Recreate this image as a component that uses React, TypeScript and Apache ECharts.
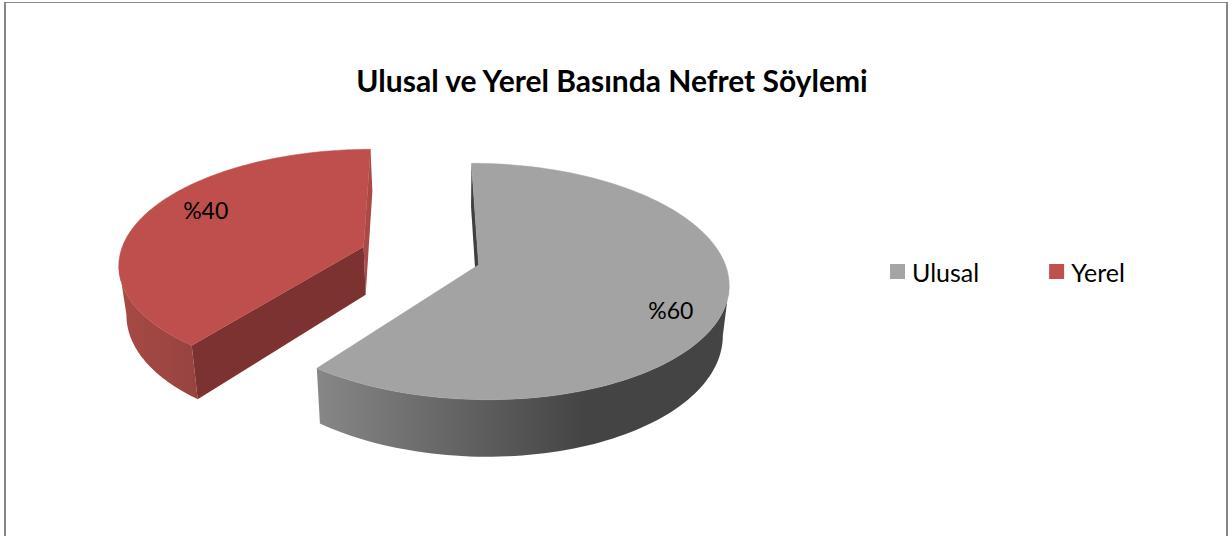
import React, { useEffect, useRef } from "react";
import * as echarts from "echarts";

const categories = ["Ulusal", "Yerel"];
const values = [60, 40];
const chartTitle = "Ulusal ve Yerel Basında Nefret Söylemi";

const FONT = "Lato, Carlito, Calibri, sans-serif";
const TOTAL = values.reduce((a, b) => a + b, 0);

// perspective model of the tilted pie
const X0 = 420.5, Y0 = 255.7, SX = 244, SY = 113.3, P = 0.139;
const EX = 0.2478, EY = 0.259;
const LABEL_SHIFT = 7.7;
const ANGLE_SKEW = 1.6;

const rad = (d: number) => (d * Math.PI) / 180;
const proj = (U: number, V: number): number[] => {
  const k = 1 - P * V;
  return [X0 + (SX * U) / k, Y0 + (SY * V) / k];
};
const lower = (pt: number[]): number[] => [
  452 + (pt[0] - 452) * 0.977,
  pt[1] + 48 + 0.059 * (pt[1] - 246),
];

const faces = [
  {
    top: "#A3A3A3",
    rim: [
      [0, "#878787"],
      [0.65, "#444444"],
      [1, "#444444"],
    ],
    cutFirst: "#3F3F3F",
    cutLast: null as string | null,
    labelR: 0.815,
  },
  {
    top: "#BE4F4C",
    rim: [
      [0, "#A84A45"],
      [1, "#964340"],
    ],
    cutFirst: "#7B3230",
    cutLast: "#A84A47",
    labelR: 0.779,
  },
];
const legendColors = ["#A5A5A5", "#C0504D"];

function sliceGroup(index: number) {
  const before = values.slice(0, index).reduce((a, b) => a + b, 0);
  const a0 = (before / TOTAL) * 360;
  const a1 = ((before + values[index]) / TOTAL) * 360;
  const mid = (a0 + a1) / 2;
  const ou = Math.sin(rad(mid)) * EX;
  const ov = -Math.cos(rad(mid)) * EY;
  const at = (deg: number, r = 1) => {
    const d = deg + ANGLE_SKEW * Math.sin(rad(deg / 2));
    return proj(ou + r * Math.sin(rad(d)), ov - r * Math.cos(rad(d)));
  };

  const arc: number[][] = [];
  const steps = 140;
  for (let i = 0; i <= steps; i++) arc.push(at(a0 + ((a1 - a0) * i) / steps));
  const apex = proj(ou, ov);
  const f = faces[index];
  const children: any[] = [];
  const poly = (points: number[][], fill: any, stroke: string = "none") => ({
    type: "polygon",
    shape: { points },
    style: { fill, stroke, lineWidth: 0.5 },
    silent: true,
  });

  const first = arc[0];
  const last = arc[arc.length - 1];
  if (f.cutLast) {
    children.push(poly([last, apex, lower(apex), lower(last)], f.cutLast));
  }

  // Only the front of the rim is drawn, closed by a straight silhouette edge.
  const xs = arc.map((p) => p[0]);
  const extreme = index === 0 ? Math.max(...xs) : Math.min(...xs);
  const extremeY = arc[xs.indexOf(extreme)][1];
  const front = arc.filter((p) => p[1] >= extremeY);
  children.push(
    poly(
      front.concat(front.map(lower).reverse()),
      new echarts.graphic.LinearGradient(
        0,
        0,
        1,
        0,
        f.rim.map((s) => ({ offset: s[0] as number, color: s[1] as string }))
      )
    )
  );
  children.push(poly([first, apex, lower(apex), lower(first)], f.cutFirst));
  children.push(poly([apex, ...arc], f.top, f.top));

  const lp = at(mid + LABEL_SHIFT, f.labelR);
  children.push({
    type: "text",
    silent: true,
    style: {
      text: "%" + values[index],
      x: lp[0],
      y: lp[1],
      align: "center",
      verticalAlign: "middle",
      fill: "#000000",
      font: `23px ${FONT}`,
    },
  });
  return { type: "group", children };
}

export default function App() {
  const ref = useRef<HTMLDivElement>(null);
  useEffect(() => {
    const chart = echarts.init(ref.current!, undefined, { renderer: "svg" });
    chart.setOption({
      animation: false,
      backgroundColor: "#FFFFFF",
      title: {
        text: chartTitle,
        left: 607,
        top: 60,
        textAlign: "center",
        textStyle: { fontFamily: FONT, fontSize: 30, fontWeight: "bold", color: "#000000" },
      },
      legend: {
        left: 885,
        top: 254,
        icon: "rect",
        itemWidth: 15,
        itemHeight: 15,
        itemGap: 70,
        data: categories,
        textStyle: { fontFamily: FONT, fontSize: 25, color: "#000000", padding: [0, 0, 0, 2] },
      },
      graphic: [
        { type: "rect", shape: { x: 4, y: 2, width: 2, height: 534 }, style: { fill: "#868686" }, silent: true },
        { type: "rect", shape: { x: 4, y: 2, width: 1224, height: 1 }, style: { fill: "#868686" }, silent: true },
        { type: "rect", shape: { x: 1226, y: 2, width: 2, height: 534 }, style: { fill: "#868686" }, silent: true },
      ],
      // Yerel sits behind Ulusal, so it is painted first.
      series: categories.map((name, i) => ({
        type: "custom",
        name,
        coordinateSystem: "none",
        itemStyle: { color: legendColors[i] },
        data: [[values[i]]],
        z: 2 + (categories.length - i),
        renderItem: () => sliceGroup(i),
      })),
    });
    return () => chart.dispose();
  }, []);
  return (
    <div
      ref={ref}
      style={{ position: "absolute", left: 0, top: 0, width: 1232, height: 536 }}
    />
  );
}
